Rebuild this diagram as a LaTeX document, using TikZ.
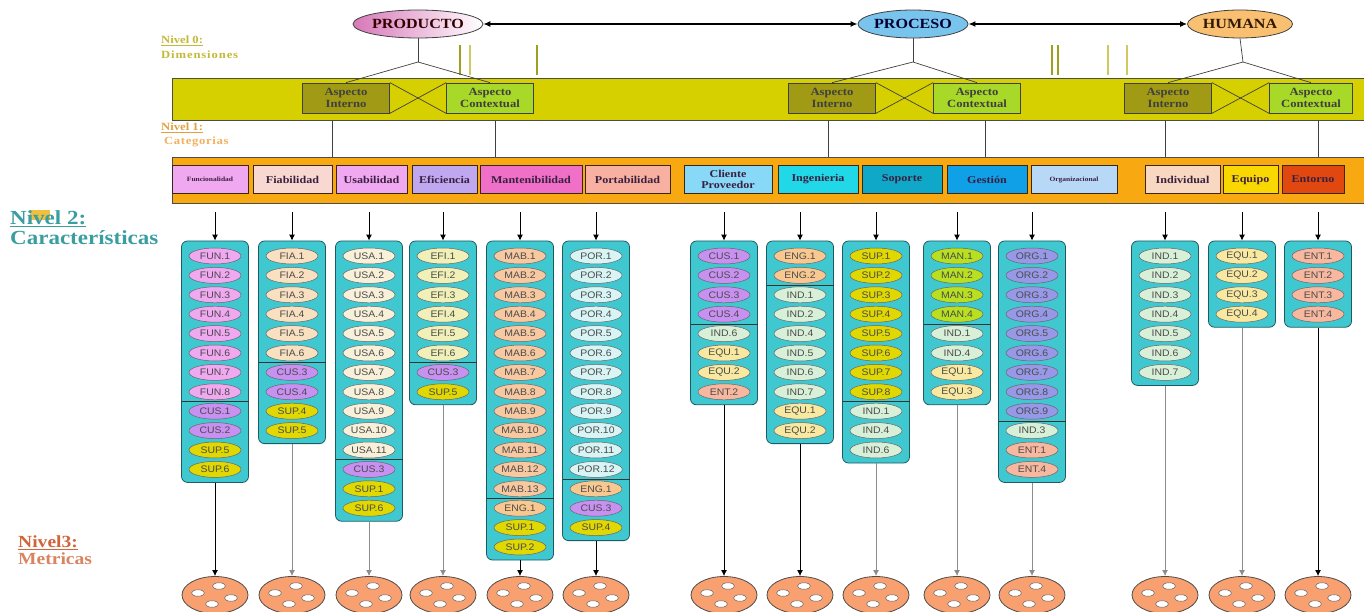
\documentclass[tikz,border=0pt]{standalone}
\usepackage{fontspec}
\setmainfont{Liberation Serif}[FakeStretch=1.15]
\newfontfamily\itemfont{Liberation Sans}[FakeStretch=1.1]
\usetikzlibrary{arrows.meta,shapes.geometric}

\definecolor{prodfill}{HTML}{D878B8}
\definecolor{procfill}{HTML}{78C4EC}
\definecolor{humfill}{HTML}{F8C070}
\definecolor{dimfill}{HTML}{D6D000}
\definecolor{intfill}{HTML}{A09A14}
\definecolor{ctxfill}{HTML}{A8D828}
\definecolor{catfill}{HTML}{F8A810}
\definecolor{cattext}{HTML}{3A2040}
\definecolor{colfill}{HTML}{40C8D0}
\definecolor{colline}{HTML}{1E5C64}
\definecolor{metfill}{HTML}{F8A070}
\definecolor{linegray}{HTML}{8C8C8C}
\definecolor{tickolive}{HTML}{A0A020}
\definecolor{ticklight}{HTML}{D0C860}
\definecolor{lvlzero}{HTML}{C4B838}
\definecolor{lvlone}{HTML}{E0A040}
\definecolor{lvlonelt}{HTML}{F0B060}
\definecolor{lvltwo}{HTML}{3A9EA0}
\definecolor{lvlthree}{HTML}{D0643A}
\definecolor{hlyellow}{HTML}{F0C040}
% categories
\definecolor{cfun}{HTML}{F0A8F0}
\definecolor{cfia}{HTML}{F8D8D0}
\definecolor{cusa}{HTML}{F0A8F0}
\definecolor{cefi}{HTML}{C0A8F0}
\definecolor{cmab}{HTML}{F070C8}
\definecolor{cpor}{HTML}{F8B0A0}
\definecolor{ccus}{HTML}{88D8F8}
\definecolor{ceng}{HTML}{20D8E8}
\definecolor{csup}{HTML}{10A8C8}
\definecolor{cges}{HTML}{10A0E8}
\definecolor{corg}{HTML}{B8D8F8}
\definecolor{cind}{HTML}{F8D8C0}
\definecolor{cequ}{HTML}{F8D800}
\definecolor{cent}{HTML}{E04810}
% items
\definecolor{itfun}{HTML}{F0A8F0}
\definecolor{itfia}{HTML}{F8E0C0}
\definecolor{itusa}{HTML}{F8F0D8}
\definecolor{itefi}{HTML}{F0F0B8}
\definecolor{itmab}{HTML}{F8C8A0}
\definecolor{itpor}{HTML}{D8F4F4}
\definecolor{itcus}{HTML}{C890F0}
\definecolor{itsup}{HTML}{E0D800}
\definecolor{iteng}{HTML}{F8C890}
\definecolor{itind}{HTML}{D8F0D8}
\definecolor{itequ}{HTML}{F8E8A0}
\definecolor{itent}{HTML}{F8B8A0}
\definecolor{itman}{HTML}{B8E020}
\definecolor{itorg}{HTML}{9898E8}

\newcommand\catsmall{\fontsize{6.5}{7}\selectfont}

\tikzset{
  dimnode/.style={ellipse, draw=black!75, line width=0.8pt, minimum width=102pt,
    minimum height=28pt, inner sep=0pt, font=\bfseries\fontsize{14}{14}\selectfont},
  dimarrow/.style={{Latex[length=7pt,width=6pt]}-{Latex[length=7pt,width=6pt]}, line width=1.3pt},
  dimline/.style={draw=black!75, line width=0.7pt},
  band/.style={draw=black!70, line width=0.8pt, inner sep=0pt, anchor=north west},
  aspbox/.style={draw=black!75, line width=0.7pt, minimum width=87pt, minimum height=30pt,
    inner sep=0pt, align=center, font=\bfseries\fontsize{11}{12}\selectfont, text=black!75},
  catbox/.style={draw=black!70!brown, line width=0.8pt, minimum height=28pt, inner sep=0pt,
    align=center, font=\bfseries\fontsize{10.5}{11}\selectfont, text=cattext},
  colbox/.style={draw=colline, fill=colfill, rounded corners=6pt, line width=0.8pt, minimum width=67pt},
  item/.style={ellipse, draw=black!60, line width=0.5pt, minimum width=52pt, minimum height=16pt,
    inner sep=0pt, font=\itemfont\fontsize{9.5}{10}\selectfont, text=black!70},
  sepline/.style={draw=black!80, line width=0.7pt},
  toparr/.style={-{Latex[length=6pt,width=6pt]}, line width=0.9pt},
  botarr/.style={-{Latex[length=6pt,width=6pt]}, line width=1pt},
  metric/.style={ellipse, draw=black!70, fill=metfill, line width=0.8pt, minimum width=66pt,
    minimum height=37pt, inner sep=0pt},
  hole/.style={ellipse, draw=black!60, fill=white, line width=0.5pt, minimum width=13pt,
    minimum height=6.5pt, inner sep=0pt},
  lvl/.style={anchor=west, inner sep=0pt, font=\bfseries\fontsize{11}{11}\selectfont},
  tick/.style={line width=1.6pt},
}

\begin{document}
\begin{tikzpicture}[x=1pt,y=-1pt]
    \useasboundingbox (0,0) rectangle (1364,612);

    % level labels
    \node[lvl, text=lvlzero] (lvl0a) at (161,41) {\underline{Nivel 0:}};
    \node[lvl, text=lvlzero] (lvl0b) at (161,55) {\addfontfeature{LetterSpace=8}Dimensiones};
    \node[lvl, text=lvlone] (lvl1a) at (161,128) {\underline{Nivel 1:}};
    \node[lvl, text=lvlonelt] (lvl1b) at (164,142) {\addfontfeature{LetterSpace=6}Categorias};
    \fill[hlyellow] (30,210) rectangle (50,220);
    \node[lvl, text=lvltwo, font=\bfseries\fontsize{20}{20}\selectfont] (lvl2a) at (10,219) {\underline{Nivel 2:}};
    \node[lvl, text=lvltwo, font=\bfseries\fontsize{20}{20}\selectfont] (lvl2b) at (10,238) {Características};
    \node[lvl, text=lvlthree, font=\bfseries\fontsize{17}{17}\selectfont] (lvl3a) at (18,543) {\underline{Nivel3:}};
    \node[lvl, text=lvlthree!80, font=\bfseries\fontsize{17}{17}\selectfont] (lvl3b) at (18,559) {Metricas};

    % level 0: dimensions
    \node[dimnode, left color=prodfill, right color=white, text=black!80!red] (prod) at (418,24) {PRODUCTO};
    \node[dimnode, fill=procfill, text=black!80!blue] (proc) at (913,24) {PROCESO};
    \node[dimnode, fill=humfill, text=black!80!orange] (hum) at (1240,24) {HUMANA};
    \draw[dimarrow] (prod) -- (proc);
    \draw[dimarrow] (proc) -- (hum);

    \draw[tick, draw=tickolive] (460,45) -- (460,75);
    \draw[tick, draw=ticklight] (470,45) -- (470,75);
    \draw[tick, draw=tickolive] (537,45) -- (537,75);
    \draw[tick, draw=tickolive] (1052,45) -- (1052,75);
    \draw[tick, draw=tickolive] (1058,45) -- (1058,75);
    \draw[tick, draw=ticklight] (1108,45) -- (1108,75);
    \draw[tick, draw=ticklight] (1127,45) -- (1127,75);

    % aspect band
    \node[band, fill=dimfill, minimum width=1196pt, minimum height=42pt] (dimband) at (172,78) {};
    \node[aspbox, fill=intfill] (pint) at (346,98) {Aspecto\\Interno};
    \node[aspbox, fill=ctxfill] (pctx) at (490,98) {Aspecto\\Contextual};
    \node[aspbox, fill=intfill] (rint) at (832,98) {Aspecto\\Interno};
    \node[aspbox, fill=ctxfill] (rctx) at (977,98) {Aspecto\\Contextual};
    \node[aspbox, fill=intfill] (hint) at (1168,98) {Aspecto\\Interno};
    \node[aspbox, fill=ctxfill, minimum width=83pt] (hctx) at (1311,98) {Aspecto\\Contextual};

    \coordinate (pj) at (418,62);
    \coordinate (rj) at (913,62);
    \coordinate (hj) at (1243,62);
    \foreach \d/\j/\i/\c in {prod/pj/pint/pctx, proc/rj/rint/rctx, hum/hj/hint/hctx} {
        \draw[dimline] (\d.south) -- (\j);
        \draw[dimline] (\j) -- (\i.north);
        \draw[dimline] (\j) -- (\c.north);
        \draw[dimline] (\i.north east) -- (\c.south west);
        \draw[dimline] (\i.south east) -- (\c.north west);
    }

    % level 1: categories
    \node[band, fill=catfill, minimum width=1196pt, minimum height=46pt] (catband) at (172,157) {};
    \foreach \vx in {332,495,828,985,1165,1318} {
        \draw[dimline] (dimband.south -| \vx,0) -- (catband.north -| \vx,0);
    }
    \foreach \nm/\cx/\w/\fc/\txt in {
        fun/210/76/cfun/\catsmall Funcionalidad, fia/292.5/79/cfia/Fiabilidad,
        usa/371.5/71/cusa/Usabilidad, efi/444.5/65/cefi/Eficiencia,
        mab/531/102/cmab/Mantenibilidad, por/627.5/85/cpor/Portabilidad,
        cus/728/88/ccus/Cliente\\Proveedor, eng/818/80/ceng/Ingenieria,
        sup/902/80/csup/Soporte, ges/987/80/cges/Gestión,
        org/1074/86/corg/\catsmall Organizacional, ind/1182.5/75/cind/Individual,
        equ/1250.5/55/cequ/Equipo, ent/1313/62/cent/Entorno} {
        \node[catbox, fill=\fc, minimum width=\w pt] (cat-\nm) at (\cx,179.5) {\txt};
    }

    % level 2: characteristics, level 3: metrics
    \foreach \cn/\cx/\ni/\sepi/\lc/\lst in {
        1/215/12/8/black/{FUN.1/fun,FUN.2/fun,FUN.3/fun,FUN.4/fun,FUN.5/fun,FUN.6/fun,FUN.7/fun,FUN.8/fun,CUS.1/cus,CUS.2/cus,SUP.5/sup,SUP.6/sup},
        2/292/10/6/linegray/{FIA.1/fia,FIA.2/fia,FIA.3/fia,FIA.4/fia,FIA.5/fia,FIA.6/fia,CUS.3/cus,CUS.4/cus,SUP.4/sup,SUP.5/sup},
        3/369/14/11/linegray/{USA.1/usa,USA.2/usa,USA.3/usa,USA.4/usa,USA.5/usa,USA.6/usa,USA.7/usa,USA.8/usa,USA.9/usa,USA.10/usa,USA.11/usa,CUS.3/cus,SUP.1/sup,SUP.6/sup},
        4/443/8/6/linegray/{EFI.1/efi,EFI.2/efi,EFI.3/efi,EFI.4/efi,EFI.5/efi,EFI.6/efi,CUS.3/cus,SUP.5/sup},
        5/520/16/13/black/{MAB.1/mab,MAB.2/mab,MAB.3/mab,MAB.4/mab,MAB.5/mab,MAB.6/mab,MAB.7/mab,MAB.8/mab,MAB.9/mab,MAB.10/mab,MAB.11/mab,MAB.12/mab,MAB.13/mab,ENG.1/eng,SUP.1/sup,SUP.2/sup},
        6/596/15/12/black/{POR.1/por,POR.2/por,POR.3/por,POR.4/por,POR.5/por,POR.6/por,POR.7/por,POR.8/por,POR.9/por,POR.10/por,POR.11/por,POR.12/por,ENG.1/eng,CUS.3/cus,SUP.4/sup},
        7/724/8/4/black/{CUS.1/cus,CUS.2/cus,CUS.3/cus,CUS.4/cus,IND.6/ind,EQU.1/equ,EQU.2/equ,ENT.2/ent},
        8/800/10/2/black/{ENG.1/eng,ENG.2/eng,IND.1/ind,IND.2/ind,IND.4/ind,IND.5/ind,IND.6/ind,IND.7/ind,EQU.1/equ,EQU.2/equ},
        9/876/11/8/linegray/{SUP.1/sup,SUP.2/sup,SUP.3/sup,SUP.4/sup,SUP.5/sup,SUP.6/sup,SUP.7/sup,SUP.8/sup,IND.1/ind,IND.4/ind,IND.6/ind},
        10/957/8/4/linegray/{MAN.1/man,MAN.2/man,MAN.3/man,MAN.4/man,IND.1/ind,IND.4/ind,EQU.1/equ,EQU.3/equ},
        11/1032/12/9/linegray/{ORG.1/org,ORG.2/org,ORG.3/org,ORG.4/org,ORG.5/org,ORG.6/org,ORG.7/org,ORG.8/org,ORG.9/org,IND.3/ind,ENT.1/ent,ENT.4/ent},
        12/1165/7/0/linegray/{IND.1/ind,IND.2/ind,IND.3/ind,IND.4/ind,IND.5/ind,IND.6/ind,IND.7/ind},
        13/1242/4/0/linegray/{EQU.1/equ,EQU.2/equ,EQU.3/equ,EQU.4/equ},
        14/1318/4/0/black/{ENT.1/ent,ENT.2/ent,ENT.3/ent,ENT.4/ent}} {
        \pgfmathsetmacro\colh{15+19.4*(\ni-1)+13}
        \pgfmathsetmacro\coly{241+\colh/2}
        \node[colbox, minimum height=\colh pt] (col\cn) at (\cx,\coly) {};
        \foreach \lab/\st [count=\i] in \lst {
            \node[item, fill=it\st] (col\cn-\i) at ({\cx},{256+19.4*(\i-1)}) {\lab};
        }
        \ifnum\sepi>0
            \pgfmathsetmacro\sepy{256+19.4*(\sepi-1)+9.7}
            \draw[sepline] ({\cx-33.5},\sepy) -- ({\cx+33.5},\sepy);
        \fi
        \coordinate (top\cn) at (\cx,212);
        \draw[toparr] (top\cn) -- (col\cn.north);
        \node[metric] (met\cn) at (\cx,595) {};
        \foreach \hx/\hy [count=\h] in {4/-9,-17/-2,16/3,-3/9} {
            \node[hole] (met\cn-\h) at ([shift={(\hx,\hy)}]met\cn.center) {};
        }
        \draw[botarr, draw=\lc] (col\cn.south) -- (met\cn.north);
    }
\end{tikzpicture}
\end{document}
